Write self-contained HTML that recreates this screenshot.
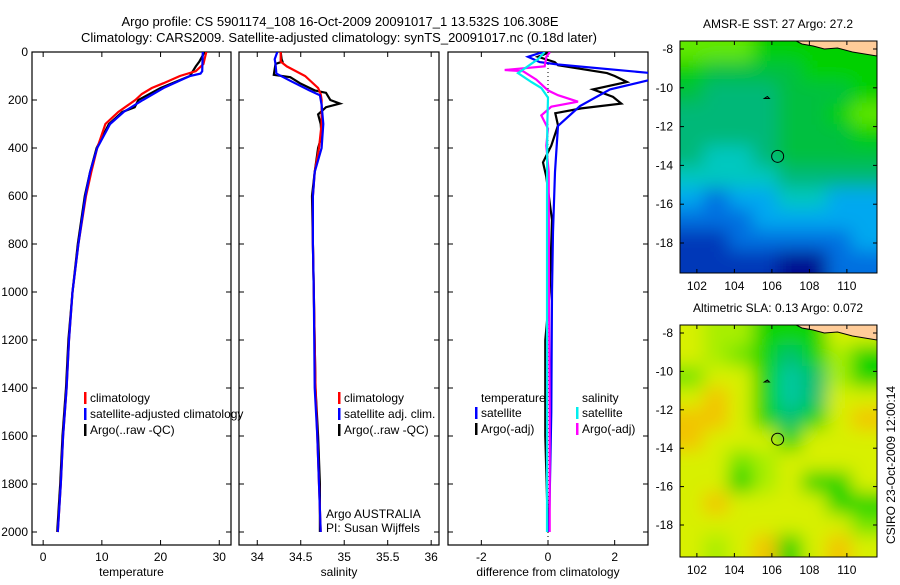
<!DOCTYPE html>
<html><head><meta charset="utf-8"><style>
body{margin:0;background:#fff;}
svg text{font-family:"Liberation Sans",sans-serif;font-size:12px;fill:#000;}
</style></head><body>
<svg id="fig" width="900" height="580" xmlns="http://www.w3.org/2000/svg">
<defs>
<filter id="blur" x="0" y="0" width="1" height="1"><feGaussianBlur stdDeviation="9"/></filter>
<clipPath id="c1"><rect x="32" y="52" width="199" height="493"/></clipPath>
<clipPath id="c2"><rect x="239" y="52" width="200" height="493"/></clipPath>
<clipPath id="c3"><rect x="448" y="52" width="200" height="493"/></clipPath>
<clipPath id="cm1"><rect x="680" y="41" width="197" height="232"/></clipPath>
<clipPath id="cm2"><rect x="680" y="325" width="197" height="232"/></clipPath>
</defs>
<text x="340" y="26" text-anchor="middle" style="font-size:13px">Argo profile: CS 5901174_108 16-Oct-2009 20091017_1 13.532S 106.308E</text>
<text x="339" y="42" text-anchor="middle" style="font-size:13px">Climatology: CARS2009. Satellite-adjusted climatology: synTS_20091017.nc (0.18d later)</text>
<g id="plots"></g>
<g id="maps"></g>
<text transform="translate(895,465) rotate(-90)" text-anchor="middle">CSIRO 23-Oct-2009 12:00:14</text>
</svg>
<script>
// ---- data ----
const depthTicks=[0,200,400,600,800,1000,1200,1400,1600,1800,2000];
const tempTicks=[0,10,20,30];
const salTicks=[34,34.5,35,35.5,36];
const diffTicks=[-2,0,2];
const tClimD=[0,50,80,100,130,150,175,200,250,300,400,500,600,800,1000,1200,1400,1600,1800,2000];
const tClimV=[27.8,27.3,26,23.3,20.5,18.5,16.8,15.7,12.8,10.6,9.2,8.2,7.3,6.0,5.0,4.4,4.0,3.4,3.0,2.5];
const tSatD=[0,80,90,100,150,200,250,300,400,500,600,800,1000,1200,1400,1600,1800,2000];
const tSatV=[27.2,27.1,26.8,25,20.5,17,13.7,11.4,9.2,8.0,7.2,6.0,5.0,4.4,4.0,3.4,3.0,2.5];
const tArgoD=[0,40,60,100,150,200,230,250,300,400,500,600,800,1000,1200,1400,1600,1800,2000];
const tArgoV=[27.5,26.6,26,25,20,16.2,15.6,13.5,11.2,9.1,8.0,7.1,5.9,5.0,4.3,3.9,3.3,2.9,2.4];
const sClimD=[0,40,60,100,150,175,200,250,300,400,500,600,800,1000,1400,1600,1800,2000];
const sClimV=[34.27,34.27,34.34,34.55,34.70,34.73,34.74,34.74,34.74,34.71,34.66,34.64,34.64,34.65,34.67,34.69,34.71,34.73];
const sSatD=[0,30,50,90,120,160,180,220,300,400,500,600,800,1000,1400,1600,1800,2000];
const sSatV=[34.23,34.2,34.21,34.22,34.38,34.6,34.72,34.74,34.76,34.74,34.66,34.64,34.64,34.65,34.66,34.69,34.71,34.73];
const sArgoD=[0,30,40,50,95,105,130,160,170,200,215,230,260,300,350,400,500,600,800,1000,1400,1600,1800,2000];
const sArgoV=[34.27,34.28,34.29,34.21,34.19,34.38,34.49,34.66,34.79,34.84,34.95,34.79,34.70,34.73,34.74,34.70,34.66,34.63,34.64,34.65,34.67,34.70,34.72,34.72];
const dTSatD=[0,20,42,52,88,115,156,225,308,500,750,1000,1500,2000];
const dTSatV=[-0.15,-0.6,-0.25,0.3,3.1,3.1,1.86,0.96,0.3,0.21,0.15,0.12,0.1,0.03];
const dTArgoD=[0,20,42,55,88,100,125,156,187,215,235,255,306,390,460,520,700,1000,1200,1600,2000];
const dTArgoV=[0.06,-0.3,0.2,0.3,1.77,2.0,2.37,1.35,1.95,2.2,1.0,0.22,0.3,0.1,-0.15,-0.05,0.12,0.05,-0.08,-0.08,0.0];
const dSArgoD=[0,20,60,75,80,115,160,180,207,228,264,319,390,500,1000,1500,2000];
const dSArgoV=[0.06,-0.05,-0.1,-1.3,-0.75,-0.35,0.0,0.3,0.9,0.1,-0.2,0.0,-0.05,0.02,0.03,0.05,0.05];
const dSSatD=[0,30,88,125,150,190,300,600,1000,1500,2000];
const dSSatV=[-0.1,-0.3,-0.9,-0.5,-0.2,0.0,-0.02,-0.03,-0.03,-0.03,-0.03];
const lonTicks=[102,104,106,108,110];
const latTicks=[-8,-10,-12,-14,-16,-18];
const sstRows=["AAABBBBB","BCCCCBBB","CDDDCCCB","DDDDCCBA","DDDDCCCB","DEEDCCCC","EEEEDDDD","FGFFEEFF","GGGFFFFF","HHGGGGGF","HHHHIIGG"];
const slaRows=["YLLNNNYY","YLKNTNLN","KYYNUTLN","YOYNUTYY","OOYNTNYO","OYYYNYYY","YYKLYYYY","YYNLYNNY","YOYYYYNN","YYYYYYYK","YLYONYOY"];
// ---- drawing ----
const NS="http://www.w3.org/2000/svg";
const fig=document.getElementById('fig');
function mk(tag,attrs,parent){const e=document.createElementNS(NS,tag);for(const k in attrs)e.setAttribute(k,attrs[k]);(parent||fig).appendChild(e);return e;}
const yD=d=>52+d*0.24;
function panel(name,x0,x1,vmin,vmax,ticks,label,clip,showY){
  const g=mk('g',{},document.getElementById('plots'));
  
  
  const sx=v=>x0+(v-vmin)/(vmax-vmin)*(x1-x0);
  const r=mk('rect',{x:x0,y:52,width:x1-x0,height:493,fill:'none',stroke:'#000','stroke-width':1.2},g);
  
  
  ticks.forEach(t=>{const x=sx(t);
    mk('line',{x1:x,x2:x,y1:52,y2:57,stroke:'#000'},g);mk('line',{x1:x,x2:x,y1:545,y2:540,stroke:'#000'},g);
    const tx=mk('text',{x:x,y:561,'text-anchor':'middle'},g);tx.textContent=String(t);
    
    });
  depthTicks.forEach(d=>{const y=yD(d);
    mk('line',{x1:x0,x2:x0+5,y1:y,y2:y,stroke:'#000'},g);mk('line',{x1:x1,x2:x1-5,y1:y,y2:y,stroke:'#000'},g);
    if(showY){const tx=mk('text',{x:28,y:y+4,'text-anchor':'end'},g);tx.textContent=String(d);
      
      }});
  const lt=mk('text',{x:(x0+x1)/2,y:576,'text-anchor':'middle'},g);lt.textContent=label;
  
  
  const line=(D,V,col,nm)=>{const p=mk('polyline',{points:D.map((d,i)=>sx(V[i]).toFixed(1)+','+yD(d).toFixed(1)).join(' '),fill:'none',stroke:col,'stroke-width':2.2,'clip-path':'url(#'+clip+')'},g);
    
    };
  return {g,sx,line};
}
function legend(g,x,y,items){items.forEach((it,i)=>{
  mk('rect',{x:x-6,y:y+i*16-10,width:2.5,height:12,fill:it[1]},g);
  const t=mk('text',{x:x,y:y+i*16},g);t.textContent=it[0];
  
  });}
const p1=panel('temperature-panel',32,231,-1.9,32,tempTicks,'temperature','c1',true);
p1.line(tArgoD,tArgoV,'#000','temp-argo-line');
p1.line(tClimD,tClimV,'#f00','temp-climatology-line');
p1.line(tSatD,tSatV,'#00f','temp-satellite-line');
legend(p1.g,90,402,[['climatology','#f00'],['satellite-adjusted climatology','#00f'],['Argo(..raw -QC)','#000']]);
const p2=panel('salinity-panel',239,439,33.79,36.09,salTicks,'salinity','c2',false);
p2.line(sArgoD,sArgoV,'#000','sal-argo-line');
p2.line(sClimD,sClimV,'#f00','sal-climatology-line');
p2.line(sSatD,sSatV,'#00f','sal-satellite-line');
legend(p2.g,344,402,[['climatology','#f00'],['satellite adj. clim.','#00f'],['Argo(..raw -QC)','#000']]);
const a1=mk('text',{x:326,y:518},p2.g);a1.textContent='Argo AUSTRALIA';


const a2=mk('text',{x:326,y:532},p2.g);a2.textContent='PI: Susan Wijffels';


const p3=panel('difference-panel',448,648,-3.0,3.0,diffTicks,'difference from climatology','c3',false);
mk('line',{x1:p3.sx(0),x2:p3.sx(0),y1:52,y2:545,stroke:'#000','stroke-dasharray':'1,3'},p3.g);
p3.line(dTArgoD,dTArgoV,'#000','diff-temp-argo-line');
p3.line(dTSatD,dTSatV,'#00f','diff-temp-satellite-line');
p3.line(dSArgoD,dSArgoV,'#f0f','diff-sal-argo-line');
p3.line(dSSatD,dSSatV,'#0ee','diff-sal-satellite-line');
const h1=mk('text',{x:481,y:402},p3.g);h1.textContent='temperature';


const h2=mk('text',{x:582,y:402},p3.g);h2.textContent='salinity';


legend(p3.g,481,417,[['satellite','#00f'],['Argo(-adj)','#000']]);
legend(p3.g,582,417,[['satellite','#0ee'],['Argo(-adj)','#f0f']]);
// maps
const pal={A:'#60e800',B:'#00d000',C:'#00c040',D:'#00b878',E:'#00c8c0',F:'#00a8f0',G:'#0070e0',H:'#0038b8',I:'#001090',
 Y:'#d8f000',O:'#f2c400',L:'#a8ee00',K:'#70e400',N:'#10d400',T:'#00c070',U:'#00c8a0'};
function map(name,y0,rows,title,clip,px){
  const g=mk('g',{},document.getElementById('maps'));
  
  
  const sx=lon=>680+(lon-101.1)*18.75, sy=lat=>y0+8+(-8-lat)*(-px);
  const cg=mk('g',{'clip-path':'url(#'+clip+')'},g);
  mk('rect',{x:680,y:y0,width:197,height:232,fill:pal[rows[5][4]]},cg);
  const fg=mk('g',{filter:'url(#blur)'},cg);
  const cw=197/8,ch=232/rows.length;
  mk('rect',{x:660,y:y0-20,width:237,height:272,fill:pal[rows[5][4]]},fg);
  rows.forEach((r,i)=>[...r].forEach((c,j)=>{
    const x=680+j*cw-(j==0?20:1), y=y0+i*ch-(i==0?20:1);
    const w=cw+2+(j==0?19:0)+(j==7?20:0), h=ch+2+(i==0?19:0)+(i==rows.length-1?20:0);
    mk('rect',{x:x,y:y,width:w,height:h,fill:pal[c]},fg);}));
  const land=mk('path',{d:`M${sx(107.3)},${y0} L${sx(107.6)},${y0+3} L${sx(108.2)},${y0+5} L${sx(108.8)},${y0+8} L${sx(109.5)},${y0+7} L${sx(110.3)},${y0+11} L${sx(111.6)},${y0+15} L${sx(111.6)},${y0} Z`,fill:'#ffcc99',stroke:'#000','stroke-width':1},cg);
  
  
  mk('path',{d:`M${sx(105.6)},${sy(-10.55)} l3,-2 l2,2 z`,fill:'none',stroke:'#000'},cg);
  const c=mk('circle',{cx:sx(106.308),cy:sy(-13.532),r:6,fill:'none',stroke:'#000'},cg);
  
  
  mk('rect',{x:680,y:y0,width:197,height:232,fill:'none',stroke:'#000'},g);
  lonTicks.forEach(l=>{const x=sx(l);mk('line',{x1:x,x2:x,y1:y0,y2:y0+4,stroke:'#000'},g);mk('line',{x1:x,x2:x,y1:y0+232,y2:y0+228,stroke:'#000'},g);
    const t=mk('text',{x:x,y:y0+249,'text-anchor':'middle'},g);t.textContent=String(l);
    
    });
  latTicks.forEach(l=>{const y=sy(l);mk('line',{x1:680,x2:684,y1:y,y2:y,stroke:'#000'},g);mk('line',{x1:877,x2:873,y1:y,y2:y,stroke:'#000'},g);
    const t=mk('text',{x:673,y:y+4,'text-anchor':'end'},g);t.textContent=String(l);
    
    });
  const t=mk('text',{x:778,y:y0-13,'text-anchor':'middle'},g);t.textContent=title;
  
  
}
map('sst-map',41,sstRows,'AMSR-E SST: 27 Argo: 27.2','cm1',-19.4);
map('sla-map',325,slaRows,'Altimetric SLA: 0.13 Argo: 0.072','cm2',-19.2);
</script>
</body></html>
